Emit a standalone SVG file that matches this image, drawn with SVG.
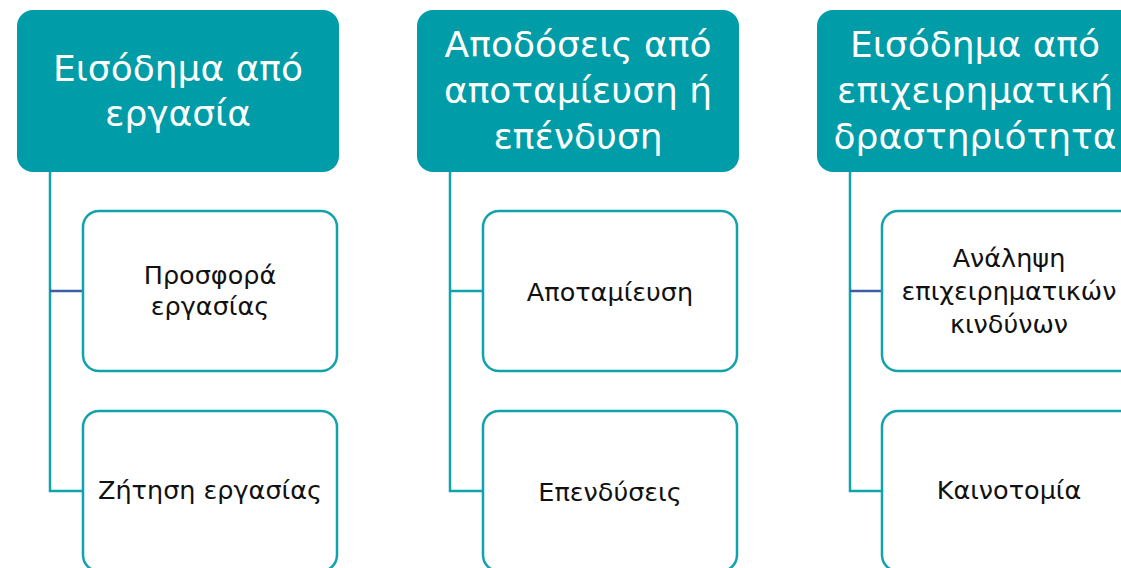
<svg xmlns="http://www.w3.org/2000/svg" width="1121" height="568" viewBox="0 0 1121 568">
<style>
.hdr{fill:#009CA7;}
.child{fill:#fff;stroke:#11A2AC;stroke-width:2.5;}
.conn{fill:none;stroke:#11A2AC;stroke-width:2.5;}
.blue{fill:none;stroke:#3D5DA6;stroke-width:2.5;}
.ht{font-family:"DejaVu Sans","Noto Sans",sans-serif;font-size:36px;fill:#fff;text-anchor:middle;}
.ct{font-family:"DejaVu Sans","Noto Sans",sans-serif;font-size:25.5px;fill:#111;text-anchor:middle;}
</style>
<rect width="1121" height="568" fill="#fff"/>
<g id="connectors">
<path class="conn" d="M50 172 V491 H83"/>
<path class="blue" d="M50 291 H83"/>
<path class="conn" d="M450 172 V491 H483 M450 291 H483"/>
<path class="conn" d="M850 172 V491 H882"/>
<path class="blue" d="M850 291 H882"/>
</g>
<g id="h1"><rect class="hdr" x="17" y="10" width="322" height="162" rx="16"/>
<text class="ht" x="178" y="81">Εισόδημα από</text><text class="ht" x="178" y="126">εργασία</text></g>
<g id="h2"><rect class="hdr" x="417" y="10" width="322" height="162" rx="16"/>
<text class="ht" x="578" y="57">Αποδόσεις από</text><text class="ht" x="578" y="103">αποταμίευση ή</text><text class="ht" x="578" y="149">επένδυση</text></g>
<g id="h3"><rect class="hdr" x="817" y="10" width="322" height="162" rx="16"/>
<text class="ht" x="975" y="57">Εισόδημα από</text><text class="ht" x="975" y="103">επιχειρηματική</text><text class="ht" x="975" y="149">δραστηριότητα</text></g>
<g id="c1a"><rect class="child" x="83" y="211" width="254" height="160" rx="16"/>
<text class="ct" x="210" y="284">Προσφορά</text><text class="ct" x="210" y="315">εργασίας</text></g>
<g id="c1b"><rect class="child" x="83" y="411" width="254" height="160" rx="16"/>
<text class="ct" x="210" y="499">Ζήτηση εργασίας</text></g>
<g id="c2a"><rect class="child" x="483" y="211" width="254" height="160" rx="16"/>
<text class="ct" x="610" y="301">Αποταμίευση</text></g>
<g id="c2b"><rect class="child" x="483" y="411" width="254" height="160" rx="16"/>
<text class="ct" x="610" y="501">Επενδύσεις</text></g>
<g id="c3a"><rect class="child" x="882" y="211" width="254" height="160" rx="16"/>
<text class="ct" x="1009" y="267">Ανάληψη</text><text class="ct" x="1009" y="300">επιχειρηματικών</text><text class="ct" x="1009" y="333">κινδύνων</text></g>
<g id="c3b"><rect class="child" x="882" y="411" width="254" height="160" rx="16"/>
<text class="ct" x="1009" y="499">Καινοτομία</text></g>
</svg>
